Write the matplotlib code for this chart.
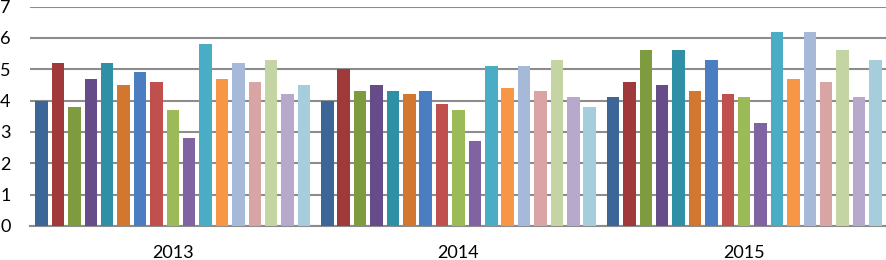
import matplotlib
matplotlib.use("Agg")
import matplotlib.pyplot as plt
import numpy as np

categories = ["2013", "2014", "2015"]
colors = ["#3C6598", "#A0393A", "#7F9B3F", "#664D8A", "#2F8FA5", "#D2772F",
          "#4A7EC0", "#C0504D", "#9BBB59", "#8064A2", "#4BACC6", "#F79646",
          "#A7B9D9", "#D9A5A4", "#C4D5A3", "#B7A9CB", "#A6CDDC"]
values_2013 = [4.0, 5.2, 3.8, 4.7, 5.2, 4.5, 4.9, 4.6, 3.7, 2.8, 5.8, 4.7, 5.2, 4.6, 5.3, 4.2, 4.5]
values_2014 = [4.0, 5.0, 4.3, 4.5, 4.3, 4.2, 4.3, 3.9, 3.7, 2.7, 5.1, 4.4, 5.1, 4.3, 5.3, 4.1, 3.8]
values_2015 = [4.1, 4.6, 5.6, 4.5, 5.6, 4.3, 5.3, 4.2, 4.1, 3.3, 6.2, 4.7, 6.2, 4.6, 5.6, 4.1, 5.3]
y_ticks = [0, 1, 2, 3, 4, 5, 6, 7]

data = np.array([values_2013, values_2014, values_2015])
n_series = data.shape[1]

plt.rcParams['font.family'] = ['Lato', 'DejaVu Sans']
fig = plt.figure(figsize=(8.87, 2.60), dpi=100)
ax = fig.add_axes([30/887, 1-226/260, 1-30/887, (226-6.5)/260])

pitch = 0.0574
width = 0.0437
x = np.arange(len(categories))
for i in range(n_series):
    ax.bar(x + (i - (n_series - 1) / 2) * pitch, data[:, i], width=width,
           color=colors[i], zorder=3)

ax.set_xlim(-0.5, 2.5)
ax.set_ylim(0, 7)
ax.set_yticks(y_ticks)
ax.set_xticks(x)
ax.set_xticklabels(categories)
ax.yaxis.grid(True, color="#8C8C8C", linewidth=1.5, zorder=0)
ax.set_axisbelow(True)
for s in ["left", "right", "top"]:
    ax.spines[s].set_visible(False)
ax.spines["bottom"].set_color("#8C8C8C")
ax.spines["bottom"].set_linewidth(1.5)
ax.tick_params(axis="y", length=0, pad=14, labelsize=13)
ax.tick_params(axis="x", length=0, pad=14, labelsize=13)

fig.savefig("out.png", dpi=100)
